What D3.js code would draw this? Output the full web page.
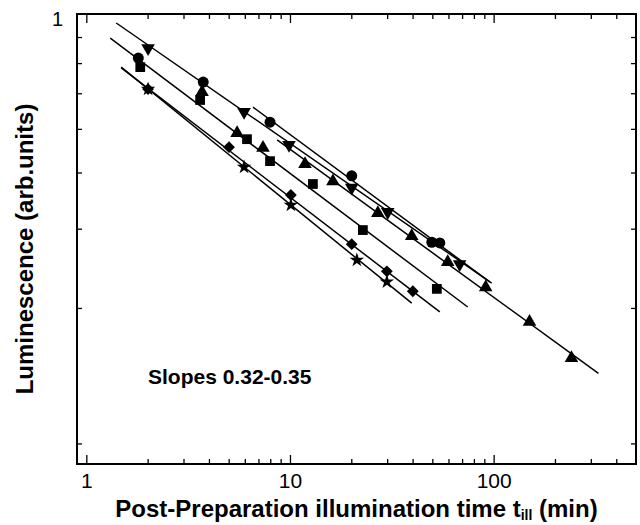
<!DOCTYPE html>
<html>
<head>
<meta charset="utf-8">
<script src="https://cdn.jsdelivr.net/npm/d3@7"></script>
<style>
  html, body { margin: 0; padding: 0; background: #fff; }
  svg { display: block; }
  text { font-family: "Liberation Sans", Arial, Helvetica, sans-serif; fill: #000; }
</style>
</head>
<body>
<svg id="chart" width="640" height="525"></svg>
<script>
// ---------- data ----------
const circleX  = [1.80, 3.75, 7.98, 20.1, 49.7, 54.4];
const circleY  = [0.798, 0.706, 0.575, 0.437, 0.311, 0.310];
const downX    = [2.01, 5.95, 9.89, 20.1, 30.2, 68.1];
const downY    = [0.840, 0.606, 0.512, 0.411, 0.363, 0.278];
const upX      = [3.70, 5.50, 7.37, 11.85, 16.25, 27.0, 39.6, 59.5, 91.4, 150, 241];
const upY      = [0.671, 0.544, 0.504, 0.464, 0.425, 0.361, 0.321, 0.281, 0.247, 0.207, 0.172];
const squareX  = [1.84, 3.62, 6.15, 7.98, 12.96, 22.8, 52.6];
const squareY  = [0.762, 0.644, 0.527, 0.471, 0.419, 0.331, 0.245];
const diamondX = [2.01, 5.02, 10.1, 20.1, 29.9, 40.1];
const diamondY = [0.681, 0.506, 0.396, 0.308, 0.268, 0.242];
const starX    = [2.01, 5.95, 10.1, 21.3, 29.9];
const starY    = [0.681, 0.457, 0.376, 0.284, 0.254];

// fitted power-law lines: [start, end]
const fitDownX    = [1.403, 97.8],  fitDownY    = [0.955, 0.2524];
const fitSquareX  = [1.311, 74.6],  fitSquareY  = [0.884, 0.2233];
const fitDiamondX = [1.484, 54.4],  fitDiamondY = [0.759, 0.2177];
const fitStarX    = [1.484, 39.6],  fitStarY    = [0.762, 0.2277];
const fitCircleX  = [6.58, 95.6],   fitCircleY  = [0.621, 0.254];
const fitUpX      = [8.65, 327],    fitUpY      = [0.525, 0.159];

const xMajorTicks = [1, 10, 100];
const xMinorTicks = [2,3,4,5,6,7,8,9,20,30,40,50,60,70,80,90,200,300,400];
const xTickLabels = ["1", "10", "100"];
const yMajorTicks = [1];
const yMinorTicks = [8/9, 7/9, 6/9, 5/9, 4/9, 3/9, 2/9, 1/9];
const yTickLabels = ["1"];

const xTitle = "Post-Preparation illumination time t";
const xTitleSub = "ill";
const xTitleEnd = " (min)";
const yTitle = "Luminescence (arb.units)";
const note = "Slopes 0.32-0.35";

// ---------- layout ----------
const L = 77, R = 636, T = 14, B = 464;
const svg = d3.select("#chart");
const x = d3.scaleLog().domain([0.9, 500]).range([L, R]);
const y = d3.scaleLog().domain([0.1, 1]).range([B, T]);

// axes (ticks pointing inward)
function styleAxis(g) {
  g.select(".domain").remove();
  g.selectAll(".tick line").attr("stroke", "#000").attr("stroke-width", 1.3);
}
svg.append("g").attr("transform", `translate(0,${B})`)
  .call(d3.axisBottom(x).tickValues(xMinorTicks).tickSize(-5).tickFormat(""))
  .call(styleAxis);
svg.append("g").attr("transform", `translate(0,${B})`)
  .call(d3.axisBottom(x).tickValues(xMajorTicks).tickSize(-9).tickPadding(18)
        .tickFormat((d, i) => xTickLabels[i]))
  .call(styleAxis)
  .call(g => g.selectAll("text").attr("font-size", 21).attr("dy", "0.72em").attr("y", 9));
svg.append("g").attr("transform", `translate(0,${T})`)
  .call(d3.axisTop(x).tickValues(xMinorTicks).tickSize(-5).tickFormat(""))
  .call(styleAxis);
svg.append("g").attr("transform", `translate(0,${T})`)
  .call(d3.axisTop(x).tickValues(xMajorTicks).tickSize(-9).tickFormat(""))
  .call(styleAxis);
svg.append("g").attr("transform", `translate(${L},0)`)
  .call(d3.axisLeft(y).tickValues(yMinorTicks).tickSize(-5).tickFormat(""))
  .call(styleAxis);
svg.append("g").attr("transform", `translate(${L},0)`)
  .call(d3.axisLeft(y).tickValues(yMajorTicks).tickSize(0).tickPadding(14)
        .tickFormat((d, i) => yTickLabels[i]))
  .call(styleAxis)
  .call(g => g.selectAll("text").attr("font-size", 20).attr("dy", "0.55em"));
svg.append("g").attr("transform", `translate(${R},0)`)
  .call(d3.axisRight(y).tickValues(yMinorTicks).tickSize(-5).tickFormat(""))
  .call(styleAxis);

// frame
svg.append("rect").attr("x", L).attr("y", T).attr("width", R - L).attr("height", B - T)
  .attr("fill", "none").attr("stroke", "#000").attr("stroke-width", 2);

// fit lines
const fits = [
  [fitDownX, fitDownY], [fitSquareX, fitSquareY], [fitDiamondX, fitDiamondY],
  [fitStarX, fitStarY], [fitCircleX, fitCircleY], [fitUpX, fitUpY]
];
const line = d3.line().x(d => x(d[0])).y(d => y(d[1]));
fits.forEach(([fx, fy]) => {
  svg.append("path").datum(fx.map((v, i) => [v, fy[i]]))
    .attr("d", line).attr("fill", "none").attr("stroke", "#000").attr("stroke-width", 1.5);
});

// markers
const series = [
  { xs: starX,    ys: starY,    type: d3.symbolStar,     size: 65,  rot: 0 },
  { xs: diamondX, ys: diamondY, type: d3.symbolSquare,   size: 70,  rot: 45 },
  { xs: squareX,  ys: squareY,  type: d3.symbolSquare,   size: 95,  rot: 0 },
  { xs: upX,      ys: upY,      type: d3.symbolTriangle, size: 80,  rot: 0 },
  { xs: downX,    ys: downY,    type: d3.symbolTriangle, size: 80,  rot: 180 },
  { xs: circleX,  ys: circleY,  type: d3.symbolCircle,   size: 95,  rot: 0 }
];
series.forEach(s => {
  const sym = d3.symbol().type(s.type).size(s.size);
  svg.append("g").selectAll("path")
    .data(s.xs.map((v, i) => [v, s.ys[i]]))
    .join("path")
    .attr("d", sym)
    .attr("transform", d => `translate(${x(d[0])},${y(d[1])}) rotate(${s.rot})`)
    .attr("fill", "#000");
});

// texts
svg.append("text").attr("x", 148).attr("y", 384)
  .attr("font-size", 21).attr("font-weight", "bold").text(note);

const xt = svg.append("text").attr("x", (L + R) / 2).attr("y", 517)
  .attr("text-anchor", "middle").attr("font-size", 24).attr("font-weight", "bold");
xt.append("tspan").text(xTitle);
xt.append("tspan").attr("font-size", 14).attr("dy", 3).text(xTitleSub);
xt.append("tspan").attr("dy", -3).text(xTitleEnd);

svg.append("text")
  .attr("transform", `translate(33,249) rotate(-90)`)
  .attr("text-anchor", "middle").attr("font-size", 24).attr("font-weight", "bold")
  .text(yTitle);
</script>
</body>
</html>
